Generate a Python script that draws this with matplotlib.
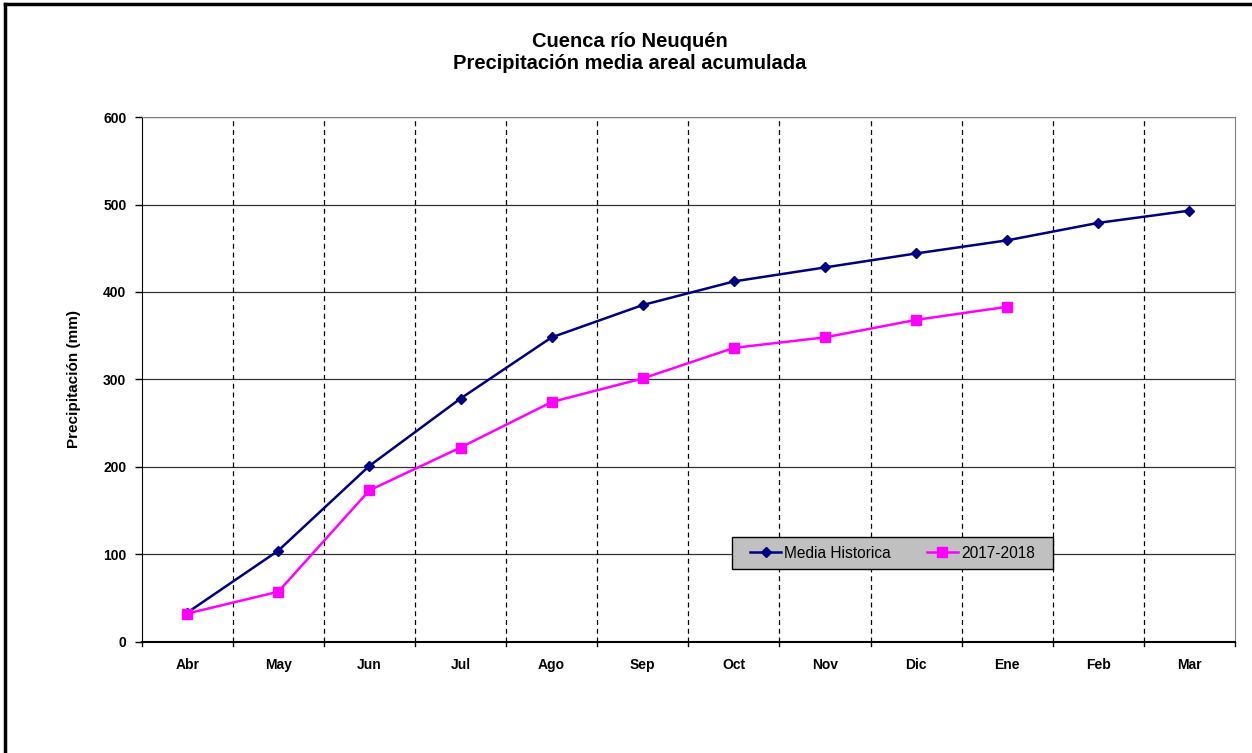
import matplotlib.pyplot as plt
from matplotlib.lines import Line2D
from matplotlib.patches import Rectangle

plt.rcParams['font.family'] = ['Liberation Sans', 'DejaVu Sans']

meses = ['Abr', 'May', 'Jun', 'Jul', 'Ago', 'Sep', 'Oct', 'Nov', 'Dic', 'Ene', 'Feb', 'Mar']
media_historica = [33, 104, 201, 278, 348, 385, 412, 428, 444, 459, 479, 493]
temporada = [32, 57, 173, 222, 274, 301, 336, 348, 368, 383]
yticks = [0, 100, 200, 300, 400, 500, 600]

fig = plt.figure(figsize=(12.52, 7.53), dpi=100)
ax = fig.add_axes([0.1131, 0.148, 0.8733, 0.6965])

# marco exterior (solo se ven los bordes izquierdo y superior)
fig.add_artist(Line2D([0.004, 0.004], [0.0, 0.9947], color='black', lw=2.5, transform=fig.transFigure))
fig.add_artist(Line2D([0.004, 1.0], [0.9947, 0.9947], color='black', lw=2.5, transform=fig.transFigure))

x = list(range(len(meses)))
ax.plot(x, media_historica, color='#000080', lw=1.8, marker='D', ms=5,
        label='Media Historica', zorder=3)
ax.plot(x[:len(temporada)], temporada, color='#ff00ff', lw=1.8, marker='s', ms=7,
        label='2017-2018', zorder=4)

ax.set_xlim(-0.5, len(meses) - 0.5)
ax.set_ylim(0, 600)
ax.set_yticks(yticks)
ax.set_yticklabels([str(v) for v in yticks], fontsize=10, fontweight='bold')
ax.set_xticks(x)
ax.set_xticklabels(meses, fontsize=10, fontweight='bold')
ax.tick_params(axis='x', length=0, pad=12)
ax.tick_params(axis='y', length=5, width=1, pad=6)

# lineas horizontales de referencia
for v in yticks[1:]:
    ax.axhline(v, color='#333333', lw=0.9, zorder=1)
# separadores verticales entre meses
for b in range(1, len(meses)):
    ax.axvline(b - 0.5, color='black', lw=0.9, ls=(0, (4, 3)), zorder=1)
    ax.plot([b - 0.5, b - 0.5], [0, -5], color='black', lw=1, clip_on=False)
ax.plot([-0.5, -0.5], [0, -5], color='black', lw=1, clip_on=False)
ax.plot([len(meses) - 0.5] * 2, [0, -5], color='black', lw=1, clip_on=False)

ax.spines['left'].set_color('black')
ax.spines['bottom'].set_color('black')
ax.spines['bottom'].set_linewidth(1.5)
ax.spines['top'].set_color('#808080')
ax.spines['right'].set_color('#808080')

ax.set_ylabel('Precipitación (mm)', fontsize=11, fontweight='bold', labelpad=16)

fig.text(0.503, 0.945, 'Cuenca río Neuquén', ha='center', va='center',
         fontsize=14.5, fontweight='bold')
fig.text(0.503, 0.916, 'Precipitación media areal acumulada', ha='center', va='center',
         fontsize=14.5, fontweight='bold')

# caja de la leyenda
box = Rectangle((732 / 1252, 184 / 753), 321 / 1252, 32 / 753, transform=fig.transFigure,
                facecolor='#c0c0c0', edgecolor='black', lw=1.0, zorder=5)
fig.add_artist(box)
handles, labels = ax.get_legend_handles_labels()
leg = fig.legend(handles, labels, loc='center', bbox_to_anchor=(892.5 / 1252, 200 / 753),
                 ncol=2, fontsize=11.2, frameon=False, handlelength=2.0,
                 handletextpad=0.2, columnspacing=2.3, borderpad=0.3)
leg.set_zorder(6)

fig.savefig('out.png', dpi=100)
